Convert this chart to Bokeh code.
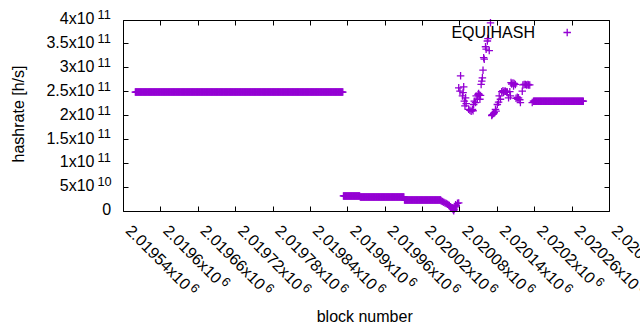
import math
import numpy as np
from bokeh.plotting import figure
from bokeh.models import Range1d, FixedTicker, LinearAxis, Label, ColumnDataSource
from bokeh.embed import file_html
from bokeh.resources import INLINE

# ---------------- data ----------------
X_MIN, X_MAX = 2019540, 2020320
Y_MIN, Y_MAX = 0, 4e11

X_TICKS = [2019540, 2019600, 2019660, 2019720, 2019780, 2019840, 2019900,
           2019960, 2020020, 2020080, 2020140, 2020200, 2020260, 2020320]
X_TICK_MANT = ["2.01954", "2.0196", "2.01966", "2.01972", "2.01978", "2.01984",
               "2.0199", "2.01996", "2.02002", "2.02008", "2.02014", "2.0202",
               "2.02026", "2.02032"]
X_TICK_EXP = "6"

Y_TICKS = [0, 5e10, 1e11, 1.5e11, 2e11, 2.5e11, 3e11, 3.5e11, 4e11]
Y_TICK_MANT = ["0", "5", "1", "1.5", "2", "2.5", "3", "3.5", "4"]
Y_TICK_EXP = ["", "10", "11", "11", "11", "11", "11", "11", "11"]

# flat stretches: one sample per block, constant hashrate
RUN_START = [2019559, 2019893, 2019920, 2019991, 2020198]
RUN_END = [2019892, 2019919, 2019990, 2020049, 2020278]
RUN_VALUE = [2.49e11, 3.15e10, 2.95e10, 2.32e10, 2.30e11]

# the dip towards zero
DIP_BLOCK = [2020050, 2020052, 2020054, 2020056, 2020058, 2020060, 2020062,
             2020063, 2020065, 2020067, 2020068, 2020069, 2020070, 2020071,
             2020072, 2020073, 2020074, 2020076, 2020078]
DIP_VALUE = [2.1e10, 2.0e10, 1.85e10, 1.7e10, 1.55e10, 1.4e10, 1.25e10,
             1.1e10, 9e9, 7e9, 5e9, 3e9, 5e8, 4e9,
             8e9, 1.3e10, 1.1e10, 1.6e10, 1.7e10]

# the erratic recovery
SPIKE_BLOCK = [2020078, 2020080, 2020081, 2020084, 2020085, 2020086, 2020087,
               2020088, 2020089, 2020090, 2020094, 2020096, 2020098, 2020100,
               2020101, 2020102, 2020103, 2020105, 2020106, 2020108, 2020109,
               2020110, 2020111, 2020112, 2020113, 2020114, 2020115, 2020116,
               2020117, 2020118, 2020119, 2020121, 2020122, 2020124, 2020125,
               2020127, 2020129, 2020131, 2020132, 2020134, 2020135, 2020137,
               2020138, 2020140, 2020142, 2020143, 2020145, 2020147, 2020149,
               2020150, 2020152, 2020153, 2020155, 2020156, 2020158, 2020160,
               2020161, 2020162, 2020163, 2020165, 2020166, 2020167, 2020169,
               2020170, 2020172, 2020173, 2020174, 2020176, 2020177, 2020180,
               2020181, 2020183, 2020185, 2020187, 2020189, 2020190, 2020192,
               2020196]
SPIKE_VALUE = [2.58e11, 2.51e11, 2.83e11, 2.41e11, 2.48e11, 2.60e11, 2.30e11,
               2.20e11, 2.37e11, 2.25e11, 2.13e11, 2.11e11, 2.09e11, 2.13e11,
               2.10e11, 2.23e11, 2.30e11, 2.27e11, 2.41e11, 2.34e11, 2.44e11,
               2.46e11, 2.43e11, 2.34e11, 2.42e11, 2.65e11, 2.72e11, 2.79e11,
               2.95e11, 3.21e11, 3.18e11, 3.44e11, 3.39e11, 3.56e11, 3.61e11,
               3.36e11, 3.94e11, 2.00e11, 2.02e11, 2.04e11, 2.06e11, 2.13e11,
               2.09e11, 2.23e11, 2.28e11, 2.41e11, 2.34e11, 2.50e11, 2.52e11,
               2.48e11, 2.51e11, 2.51e11, 2.49e11, 2.49e11, 2.37e11, 2.50e11,
               2.41e11, 2.69e11, 2.66e11, 2.68e11, 2.62e11, 2.67e11, 2.65e11,
               2.36e11, 2.38e11, 2.34e11, 2.37e11, 2.33e11, 2.27e11, 2.51e11,
               2.64e11, 2.65e11, 2.65e11, 2.64e11, 2.65e11, 2.64e11, 2.64e11,
               2.27e11]

SERIES_NAME = "EQUIHASH"
X_TITLE = "block number"
Y_TITLE = "hashrate [h/s]"
COLOR = "#9400D3"
FONT = "Liberation Sans"
MAIN_PX, SUP_PX = 16, 12.8

# ---------------- layout: the whole canvas is the frame, the box is drawn by axes ----------------
W, H = 640, 330
BOX_L, BOX_R, BOX_T, BOX_B = 123, 609, 19.5, 210.5    # plot box in canvas px (from top-left)
XPX = (X_MAX - X_MIN) / (BOX_R - BOX_L)               # blocks per px
YPX = (Y_MAX - Y_MIN) / (BOX_B - BOX_T)               # h/s per px
x_range = Range1d(X_MIN - BOX_L * XPX, X_MAX + (W - BOX_R) * XPX)
y_range = Range1d(Y_MIN - (H - BOX_B) * YPX, Y_MAX + BOX_T * YPX)

def px_x(x):
    return BOX_L + (x - X_MIN) / XPX

def px_y(y):
    return BOX_B - (y - Y_MIN) / YPX

C45 = math.cos(math.pi / 4)
ADV = {".": .278, "x": .5}
BASELINE_FIX = 0.31          # empirical lift (in em) of Bokeh's alphabetic anchor

def text_w(s, px):
    return sum(ADV.get(c, .556) for c in s) * px

def lab(text, x, y, size=MAIN_PX, align="left", angle=0.0):
    # x, y: wanted baseline anchor, canvas px from the top-left corner
    k = BASELINE_FIX * size
    x += -math.sin(angle) * k
    y += -math.cos(angle) * k
    return Label(x=x, y=H - y, x_units="screen", y_units="screen",
                 text=text, angle=angle, text_align=align,
                 text_baseline="alphabetic", text_font=FONT,
                 text_font_size=f"{size}px", text_color="black")

# ---------------- points ----------------
xs, ys = [], []
for s, e, v in zip(RUN_START, RUN_END, RUN_VALUE):
    blocks = np.arange(s, e + 1)
    xs.extend(blocks.tolist())
    ys.extend([v] * len(blocks))
xs.extend(DIP_BLOCK); ys.extend(DIP_VALUE)
xs.extend(SPIKE_BLOCK); ys.extend(SPIKE_VALUE)
src = ColumnDataSource(dict(x=xs, y=ys))

p = figure(width=W, height=H, min_border=0,
           x_range=x_range, y_range=y_range,
           output_backend="svg", toolbar_location=None,
           x_axis_location=None, y_axis_location=None)
p.grid.visible = False
p.outline_line_color = None
p.background_fill_color = "white"
p.border_fill_color = "white"

def box_axis(ticks, loc, bounds):
    ax = LinearAxis(ticker=FixedTicker(ticks=ticks), fixed_location=loc, bounds=bounds)
    ax.axis_line_color = "black"
    ax.axis_line_width = 1
    ax.major_tick_line_color = "black"
    ax.major_tick_in = 5
    ax.major_tick_out = 0
    ax.minor_tick_line_color = None
    ax.major_label_text_font_size = "0px"
    ax.major_label_overrides = {t: "" for t in ticks}
    return ax

p.add_layout(box_axis(X_TICKS, Y_MIN, (X_MIN, X_MAX)), "below")
p.add_layout(box_axis(X_TICKS, Y_MAX, (X_MIN, X_MAX)), "above")
p.add_layout(box_axis(Y_TICKS, X_MIN, (Y_MIN, Y_MAX)), "left")
p.add_layout(box_axis(Y_TICKS, X_MAX, (Y_MIN, Y_MAX)), "right")

p.scatter("x", "y", source=src, marker="cross", size=7.5,
          line_color=COLOR, line_width=1.3)

# ---------------- y tick labels ----------------
for v, m, e in zip(Y_TICKS, Y_TICK_MANT, Y_TICK_EXP):
    ty = px_y(v)
    if e == "":
        p.add_layout(lab(m, BOX_L - 12.4, ty + 2.8, MAIN_PX, "right"))
    else:
        p.add_layout(lab(m + "x10", BOX_L - 29.0, ty + 3.7, MAIN_PX, "right"))
        p.add_layout(lab(e, BOX_L - 26.0, ty - 1.5, SUP_PX, "left"))

# ---------------- x tick labels (rotated) ----------------
for t, m in zip(X_TICKS, X_TICK_MANT):
    main = m + "x10"
    bx, by = px_x(t) + 1.7, BOX_B + 20.3
    p.add_layout(lab(main, bx, by, MAIN_PX, "left", -math.pi / 4))
    d = text_w(main, MAIN_PX) + 2.5
    r = 5.4
    p.add_layout(lab(X_TICK_EXP, bx + C45 * (d + r), by + C45 * (d - r),
                     SUP_PX, "left", -math.pi / 4))

# ---------------- axis titles ----------------
p.add_layout(lab(X_TITLE, 364.2, BOX_B + 110.5, MAIN_PX, "center"))
p.add_layout(lab(Y_TITLE, 23.4, 113.5, MAIN_PX, "center", math.pi / 2))

# ---------------- key (gnuplot style: title, then sample) ----------------
p.add_layout(lab(SERIES_NAME, BOX_R - 74.5, BOX_T + 17.2, MAIN_PX, "right"))
key_x = X_MAX - (BOX_R - 566.7) * XPX
key_y = Y_MAX - (32 - BOX_T) * YPX
key_src = ColumnDataSource(dict(x=[key_x], y=[key_y]))
p.scatter("x", "y", source=key_src, marker="cross", size=7.5,
          line_color=COLOR, line_width=1.3)

open("out.html", "w").write(file_html(p, INLINE))
